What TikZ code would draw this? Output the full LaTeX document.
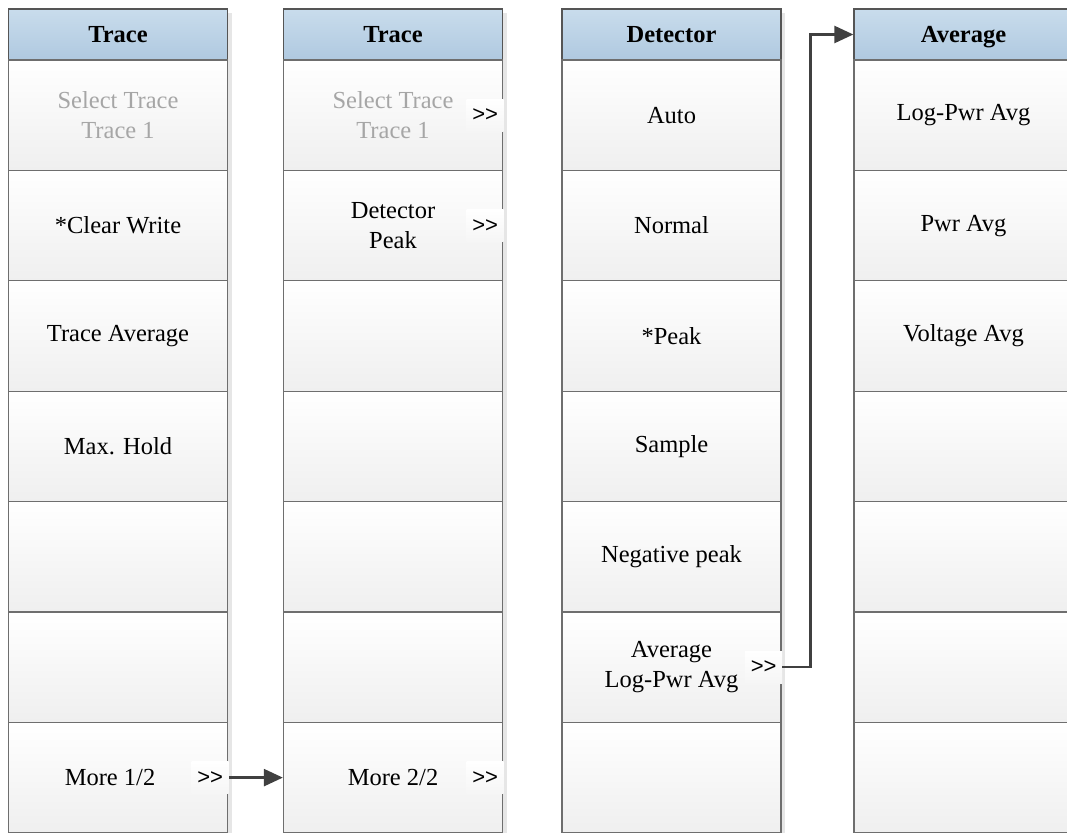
\documentclass[tikz,border=0pt]{standalone}
\usepackage{fontspec}
\setmainfont{Liberation Serif}
\newfontfamily\keyfont{Liberation Sans}
\usepackage{tikz}
\usetikzlibrary{arrows.meta, positioning}

\definecolor{headtop}{HTML}{C9DCEC}
\definecolor{headbot}{HTML}{AFC9E0}
\definecolor{keybot}{HTML}{EFEFEF}
\definecolor{edgegray}{HTML}{6E6E6E}
\definecolor{headedge}{HTML}{555555}
\definecolor{dimtext}{HTML}{A6A6A6}
\definecolor{wiregray}{HTML}{404040}
\definecolor{shadegray}{HTML}{E6E6E6}

\tikzset{
  keyfont/.style={font=\fontsize{24.5}{30}\selectfont},
  menuhead/.style={draw=headedge, line width=1.3pt, top color=headtop, bottom color=headbot,
    minimum width=219pt, minimum height=51pt, inner sep=0pt, text height=20pt, text depth=3pt,
    font=\fontsize{24.5}{30}\selectfont\bfseries},
  menukey/.style={draw=edgegray, line width=1.3pt, top color=white, bottom color=keybot,
    minimum width=219pt, minimum height=110.4pt, inner sep=0pt},
  keytext/.style={align=center, keyfont},
  submark/.style={top color=white, bottom color=keybot!60, minimum width=37pt, minimum height=32pt,
    inner sep=0pt, font=\keyfont\fontsize{22}{22}\selectfont, anchor=east},
  wire/.style={draw=wiregray, line width=2.5pt, -{Triangle[length=19pt,width=17pt]}}
}

\begin{document}
\begin{tikzpicture}[x=1pt, y=-1pt]
        \clip[use as bounding box] (0,0) rectangle (1067,832);

        % Menu columns
        \foreach \c/\x/\title in {1/118/Trace, 2/393/Trace, 3/671.5/Detector, 4/963.5/Average}{
            \fill[shadegray] ({\x-104.5},13) rectangle ({\x+113.5},840);
            \node[menuhead] (h\c) at (\x,34.5) {\title};
            \foreach \r in {1,...,7}
                \node[menukey] (k\c-\r) at (\x,{60+110.4*(\r-0.5)}) {};
        }

        % Trace 1/2
        \node[keytext, text=dimtext] (t1-1) at (k1-1) {Select Trace\\Trace 1};
        \node[keytext] (t1-2) at (k1-2) {*Clear Write};
        \node[keytext] (t1-3) at (k1-3) {Trace Average};
        \node[keytext] (t1-4) at (k1-4) {Max. Hold};
        \node[keytext] (t1-7) at ([xshift=-8pt]k1-7.center) {More 1/2};
        \node[submark] (m1) at ([xshift=0.7pt]k1-7.east) {>{}>};

        % Trace 2/2
        \node[keytext, text=dimtext] (t2-1) at (k2-1) {Select Trace\\Trace 1};
        \node[submark] (m2a) at ([xshift=0.7pt]k2-1.east) {>{}>};
        \node[keytext] (t2-2) at (k2-2) {Detector\\Peak};
        \node[submark] (m2b) at ([xshift=0.7pt]k2-2.east) {>{}>};
        \node[keytext] (t2-7) at (k2-7) {More 2/2};
        \node[submark] (m2c) at ([xshift=0.7pt]k2-7.east) {>{}>};

        % Detector
        \node[keytext] (t3-1) at (k3-1) {Auto};
        \node[keytext] (t3-2) at (k3-2) {Normal};
        \node[keytext] (t3-3) at (k3-3) {*Peak};
        \node[keytext] (t3-4) at (k3-4) {Sample};
        \node[keytext] (t3-5) at (k3-5) {Negative peak};
        \node[keytext] (t3-6) at (k3-6) {Average\\Log-Pwr Avg};
        \node[submark] (m3) at ([xshift=0.7pt]k3-6.east) {>{}>};

        % Average
        \node[keytext] (t4-1) at (k4-1) {Log-Pwr Avg};
        \node[keytext] (t4-2) at (k4-2) {Pwr Avg};
        \node[keytext] (t4-3) at (k4-3) {Voltage Avg};

        % Links
        \draw[wire] (m1.east) -- (k2-7.west);
        \draw[wire] (m3.east) -- ++(28,0) |- (h4.west);
\end{tikzpicture}
\end{document}
